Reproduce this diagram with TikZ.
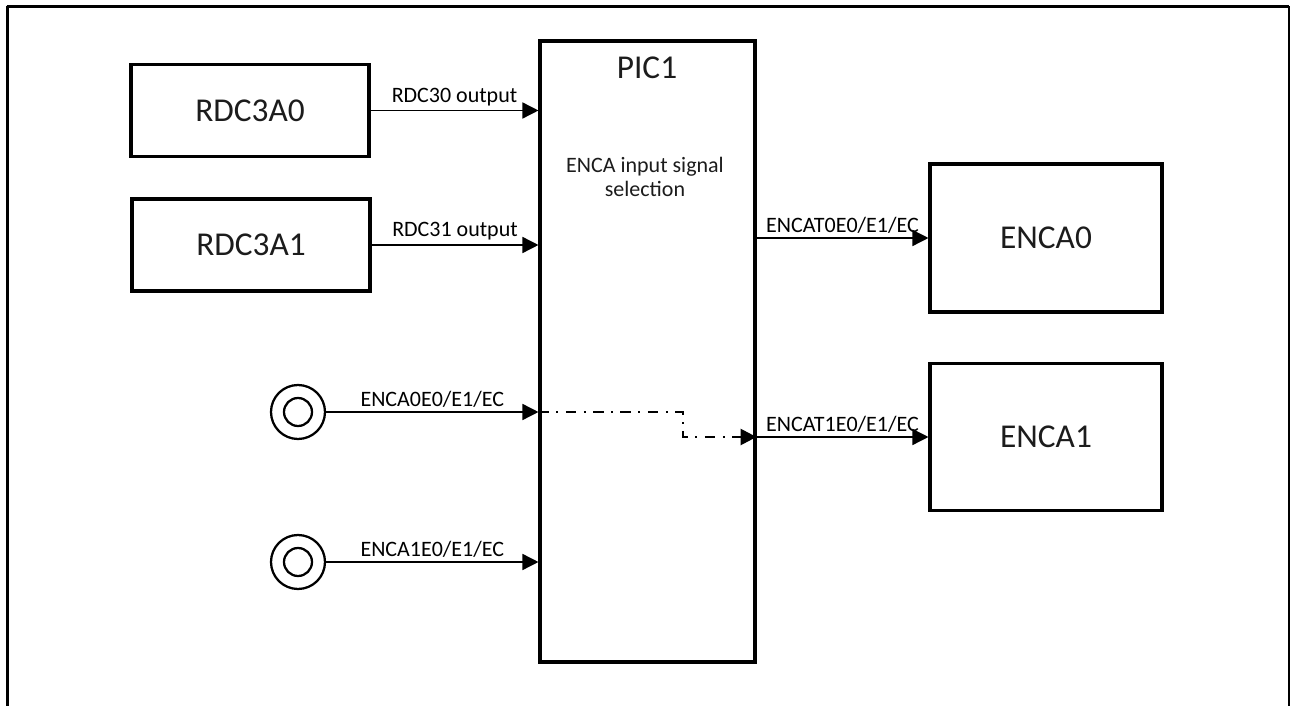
\documentclass[tikz,border=0pt]{standalone}
\usepackage{fontspec}
\setmainfont{Carlito}
\usepackage{tikz}
\usetikzlibrary{arrows.meta,positioning,calc}
\definecolor{dgink}{HTML}{000000}
\definecolor{dgtext}{HTML}{1C1C1C}

\begin{document}
\begin{tikzpicture}[x=0.75pt,y=-0.75pt,
    blk/.style={draw=dgink,line width=2.3pt,fill=white,inner sep=0pt,font=\fontsize{25}{29}\selectfont\color{dgtext}},
    sig/.style={-{Triangle[length=12pt,width=12pt]},dgink,line width=1.1pt},
    lbl/.style={font=\fontsize{16.5}{19}\selectfont\color{dgtext},inner sep=3pt},
    pinring/.style={draw=dgink,circle,line width=1.7pt,inner sep=0pt}]
  \useasboundingbox (0,0) rectangle (1290,706);
  % page frame
  \draw[dgink,line width=2.2pt] (7.5,706) -- (7.5,6.5);
  \draw[dgink,line width=1.8pt] (6.5,6.5) -- (1289,6.5);
  \draw[dgink,line width=1pt] (1289,6.5) -- (1289,706);

  % blocks
  \node[blk,minimum width=178.5pt,minimum height=69.5pt] (rdc0) at (250,110.5) {RDC3A0};
  \node[blk,minimum width=178.5pt,minimum height=69pt] (rdc1) at (251,245) {RDC3A1};
  \node[blk,minimum width=161.25pt,minimum height=465.75pt] (pic) at (647.5,351.5) {};
  \node[blk,minimum width=174pt,minimum height=111pt] (enca0) at (1046,238) {ENCA0};
  \node[blk,minimum width=174pt,minimum height=110pt] (enca1) at (1046,437) {ENCA1};
  \node[font=\fontsize{25}{29}\selectfont\color{dgtext}] (pictitle) at (647,68) {PIC1};
  \node[lbl,align=center,font=\fontsize{16.5}{17.5}\selectfont\color{dgtext}] (picsel) at (645,177) {ENCA input signal\\selection};

  % external pins
  \node[pinring,minimum size=40.5pt] (pin0) at (298,412) {};
  \node[pinring,minimum size=21pt] (pin0c) at (pin0) {};
  \node[pinring,minimum size=40.5pt] (pin1) at (298,562) {};
  \node[pinring,minimum size=21pt] (pin1c) at (pin1) {};

  % inputs
  \draw[sig] (rdc0.east) -- (rdc0.east -| pic.west) node[lbl,midway,above] {RDC30 output};
  \draw[sig] (rdc1.east) -- (rdc1.east -| pic.west) node[lbl,midway,above] {RDC31 output};
  \draw[sig] (pin0.east) -- (pin0.east -| pic.west) node[lbl,midway,above] {ENCA0E0/E1/EC};
  \draw[sig] (pin1.east) -- (pin1.east -| pic.west) node[lbl,midway,above] {ENCA1E0/E1/EC};

  % outputs
  \draw[sig] (pic.east |- enca0.west) -- (enca0.west) node[lbl,midway,above] {ENCAT0E0/E1/EC};
  \draw[sig] (pic.east |- enca1.west) -- (enca1.west) node[lbl,midway,above] {ENCAT1E0/E1/EC};

  % routing inside PIC1
  \coordinate (jog) at (683,412);
  \draw[-{Triangle[length=12pt,width=12pt]},dgink,line width=2pt,dash pattern=on 8pt off 5.5pt on 1.5pt off 5.5pt]
    (pic.west |- pin0) -- (jog) |- (pic.east |- enca1.west);
\end{tikzpicture}
\end{document}
